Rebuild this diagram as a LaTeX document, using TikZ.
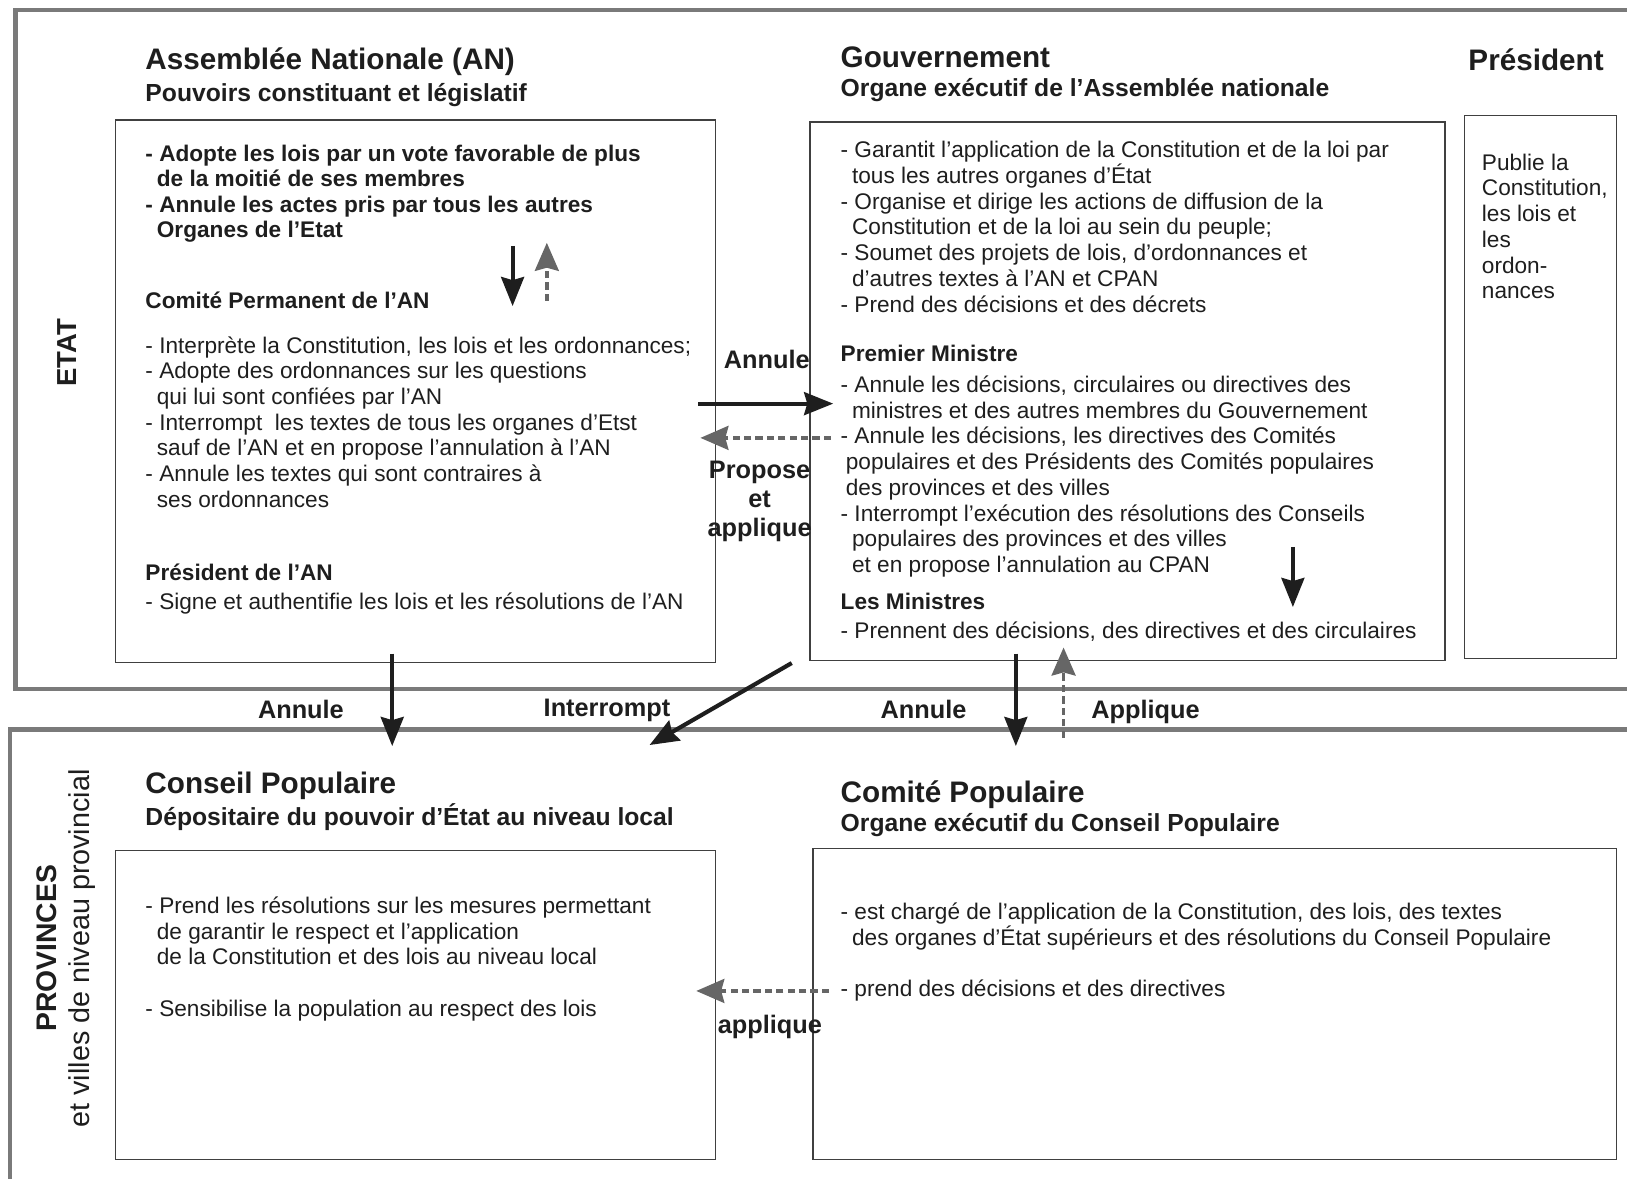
\documentclass[tikz,border=0pt]{standalone}
\usepackage{fontspec}
\setmainfont{Liberation Sans}
\usetikzlibrary{arrows.meta,positioning,calc}
\definecolor{ink}{HTML}{1E1E1E}
\definecolor{framegray}{HTML}{7A7A7A}
\definecolor{arrgray}{HTML}{666666}
\newcommand{\cont}{\hspace*{11pt}}

\begin{document}
\begin{tikzpicture}[x=1pt,y=-1pt]
  \tikzstyle{frame}=[draw=framegray,line width=4pt]
  \tikzstyle{box}=[draw=ink!85,line width=1.2pt,anchor=north west,inner sep=0pt]
  \tikzstyle{title}=[anchor=base west,inner sep=0pt,text=ink,font=\bfseries\fontsize{28.6}{32}\selectfont]
  \tikzstyle{subtitle}=[anchor=base west,inner sep=0pt,text=ink,font=\bfseries\fontsize{23.8}{27}\selectfont]
  \tikzstyle{txt}=[anchor=north west,inner sep=0pt,align=left,text=ink,font=\fontsize{21.8}{24.8}\selectfont]
  \tikzstyle{head}=[txt,font=\bfseries\fontsize{21.8}{24.2}\selectfont]
  \tikzstyle{lbl}=[inner sep=0pt,align=center,text=ink,font=\bfseries\fontsize{24.4}{28}\selectfont]
  \tikzstyle{side}=[inner sep=0pt,rotate=90,text=ink]
  \tikzstyle{solidarr}=[draw=ink,line width=4pt,-{Stealth[length=28pt,width=22pt,inset=3pt]}]
  \tikzstyle{dasharr}=[draw=arrgray,line width=3.5pt,dash pattern=on 7pt off 4pt,-{Stealth[length=27pt,width=23pt,inset=3pt]}]
  \useasboundingbox (0,0) rectangle (1568,1136);

  % the two levels
  \draw[frame] (1572,10) -| (15,664) -- (1572,664);
  \draw[frame] (1572,703) -| (10,1140);
  \node[side,font=\bfseries\fontsize{26.5}{28}\selectfont] (etat) at (65,340) {ETAT};
  \node[side,font=\bfseries\fontsize{27.3}{30}\selectfont] (prov) at (45,914) {PROVINCES};
  \node[side,font=\fontsize{27.7}{30}\selectfont] (provsub) at (79,914) {et villes de niveau provincial};

  % Assemblée Nationale
  \node[title] (antitle) at (140,67) {Assemblée Nationale (AN)};
  \node[subtitle] (ansub) at (140,98) {Pouvoirs constituant et législatif};
  \node[box,minimum width=578pt,minimum height=523pt] (anbox) at (111,115) {};
  \node[head] (anroles) at (140,140) {- Adopte les lois par un vote favorable de plus\\
    \cont de la moitié de ses membres\\
    - Annule les actes pris par tous les autres\\
    \cont Organes de l’Etat};
  \node[head] (cpan) at (140,281) {Comité Permanent de l’AN};
  \node[txt] (cpanroles) at (140,324) {- Interprète la Constitution, les lois et les ordonnances;\\
    - Adopte des ordonnances sur les questions\\
    \cont qui lui sont confiées par l’AN\\
    - Interrompt \ les textes de tous les organes d’Etst\\
    \cont sauf de l’AN et en propose l’annulation à l’AN\\
    - Annule les textes qui sont contraires à\\
    \cont ses ordonnances};
  \node[head] (pan) at (140,543) {Président de l’AN};
  \node[txt] (panroles) at (140,571) {- Signe et authentifie les lois et les résolutions de l’AN};

  % Gouvernement
  \node[title] (gvtitle) at (810,65) {Gouvernement};
  \node[subtitle] (gvsub) at (810,93) {Organe exécutif de l’Assemblée nationale};
  \node[box,minimum width=612pt,minimum height=519pt] (gvbox) at (780,117) {};
  \node[txt] (gvroles) at (810,136) {- Garantit l’application de la Constitution et de la loi par\\
    \cont tous les autres organes d’État\\
    - Organise et dirige les actions de diffusion de la\\
    \cont Constitution et de la loi au sein du peuple;\\
    - Soumet des projets de lois, d’ordonnances et\\
    \cont d’autres textes à l’AN et CPAN\\
    - Prend des décisions et des décrets};
  \node[head] (pm) at (810,332) {Premier Ministre};
  \node[txt] (pmroles) at (810,362) {- Annule les décisions, circulaires ou directives des\\
    \cont ministres et des autres membres du Gouvernement\\
    - Annule les décisions, les directives des Comités\\
    \hspace*{5pt}populaires et des Présidents des Comités populaires\\
    \hspace*{5pt}des provinces et des villes\\
    - Interrompt l’exécution des résolutions des Conseils\\
    \cont populaires des provinces et des villes\\
    \cont et en propose l’annulation au CPAN};
  \node[head] (mins) at (810,571) {Les Ministres};
  \node[txt] (minsroles) at (810,599) {- Prennent des décisions, des directives et des circulaires};

  % Président
  \node[title] (prtitle) at (1415,68) {Président};
  \node[box,minimum width=146pt,minimum height=523pt] (prbox) at (1411,111) {};
  \node[txt] (prroles) at (1428,148) {Publie la\\ Constitution,\\ les lois et\\ les\\ ordon-\\ nances};

  % Conseil Populaire
  \node[title] (cptitle) at (140,765) {Conseil Populaire};
  \node[subtitle] (cpsub) at (140,796) {Dépositaire du pouvoir d'État au niveau local};
  \node[box,minimum width=578pt,minimum height=298pt] (cpbox) at (111,819) {};
  \node[txt] (cproles) at (140,864) {- Prend les résolutions sur les mesures permettant\\
    \cont de garantir le respect et l’application\\
    \cont de la Constitution et des lois au niveau local\\[24.5pt]
    - Sensibilise la population au respect des lois};

  % Comité Populaire
  \node[title] (cmtitle) at (810,773) {Comité Populaire};
  \node[subtitle] (cmsub) at (810,801) {Organe exécutif du Conseil Populaire};
  \node[box,minimum width=774pt,minimum height=300pt] (cmbox) at (783,817) {};
  \node[txt] (cmroles) at (810,870) {- est chargé de l’application de la Constitution, des lois, des textes\\
    \cont des organes d'État supérieurs et des résolutions du Conseil Populaire\\[24.5pt]
    - prend des décisions et des directives};

  % arrow ends
  \coordinate (anup) at (494,237);
  \coordinate (andown) at (494,295);
  \coordinate (cpdown) at (527,290);
  \coordinate (cpup) at (527,234);
  \coordinate (anright) at (673,389);
  \coordinate (gvleft) at (803,389);
  \coordinate (gvback) at (801,422);
  \coordinate (anback) at (675,422);
  \coordinate (gvin) at (1246,527);
  \coordinate (gvout) at (1246,585);
  \coordinate (anfoot) at (378,630);
  \coordinate (cphead) at (378,719);
  \coordinate (gvcorner) at (763,639);
  \coordinate (cpcorner) at (626,718);
  \coordinate (gvfoot) at (979,630);
  \coordinate (cmhead) at (979,719);
  \coordinate (cmtop) at (1025,711);
  \coordinate (gvbase) at (1025,624);
  \coordinate (cmleft) at (799,955);
  \coordinate (cpright) at (671,955);

  % connectors
  \draw[solidarr] (anup) -- (andown);
  \draw[dasharr] (cpdown) -- (cpup);
  \draw[solidarr] (anright) -- (gvleft);
  \draw[dasharr] (gvback) -- (anback);
  \draw[solidarr] (gvin) -- (gvout);
  \draw[solidarr] (anfoot) -- (cphead);
  \draw[solidarr] (gvcorner) -- (cpcorner);
  \draw[solidarr] (gvfoot) -- (cmhead);
  \draw[dasharr] (cmtop) -- (gvbase);
  \draw[dasharr] (cmleft) -- (cpright);

  % labels
  \node[lbl] (l1) at (739,346) {Annule};
  \node[lbl,anchor=north] (l2) at (732,444) {Propose\\et\\applique};
  \node[lbl] (l3) at (290,684) {Annule};
  \node[lbl] (l4) at (585,685) {Interrompt};
  \node[lbl] (l5) at (890,684) {Annule};
  \node[lbl] (l6) at (1104,686) {Applique};
  \node[lbl] (l7) at (742,990) {applique};
\end{tikzpicture}
\end{document}
